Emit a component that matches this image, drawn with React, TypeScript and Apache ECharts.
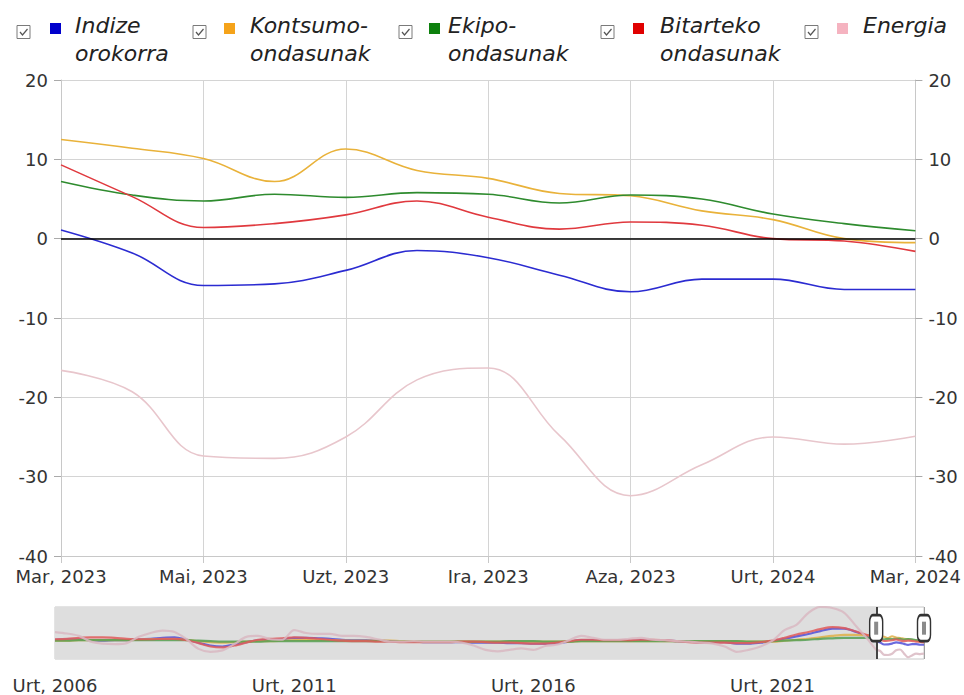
import React, { useEffect, useRef } from "react";
import * as echarts from "echarts";

// ---- main window (monthly, Mar 2023 – Mar 2024) ----
const monthLabels = [
  "Mar, 2023", "Api, 2023", "Mai, 2023", "Eka, 2023", "Uzt, 2023", "Abu, 2023", "Ira, 2023",
  "Urr, 2023", "Aza, 2023", "Abe, 2023", "Urt, 2024", "Ots, 2024", "Mar, 2024",
];

const seriesNames = ["Indize orokorra", "Kontsumo-ondasunak", "Ekipo-ondasunak", "Bitarteko ondasunak", "Energia"];
const legendLabels = ["Indize\norokorra", "Kontsumo-\nondasunak", "Ekipo-\nondasunak", "Bitarteko\nondasunak", "Energia"];

const indize = [1.1, -1.8, -5.9, -5.7, -4.0, -1.5, -2.4, -4.6, -6.7, -5.1, -5.1, -6.4, -6.4];
const kontsumo = [12.5, 11.4, 10.1, 7.2, 11.3, 8.6, 7.6, 5.7, 5.4, 3.5, 2.4, 0.0, -0.5];
const ekipo = [7.2, 5.5, 4.75, 5.6, 5.2, 5.8, 5.6, 4.5, 5.5, 5.0, 3.1, 1.9, 1.0];
const bitarteko = [9.3, 5.3, 1.4, 1.9, 3.0, 4.75, 2.7, 1.2, 2.1, 1.7, 0.0, -0.3, -1.6];
const energia = [-16.6, -19.3, -27.4, -27.7, -25.0, -17.8, -16.3, -24.8, -32.4, -28.5, -25.0, -25.9, -24.9];

// ---- history for the range selector (quarterly: Jan, Apr, Jul, Oct; Jan 2006 – Jan 2023) ----
const histStartYear = 2006;
const histIndize = [
  4, 5, 5, 3, 2, 3, 3, 5, 6, 8, 9, 4, -2, -8, -10, -6, -1, 3, 4, 5, 8, 8, 7, 6, 4, 3, 3, 2,
  1, 0, 0, -1, -1, -1, -1, -2, -2, -2, -3, -3, -4, -4, -3, 0, 3, 3, 2, 2, 2, 3, 3, 2,
  1, 0, -1, -1, -1, -4, -4, -2, 1, 6, 11, 16, 22, 27, 27, 20, 10,
];
const histKontsumo = [
  2, 2, 3, 3, 3, 3, 3, 4, 5, 5, 5, 4, 1, -1, -2, -1, 0, 1, 1, 2, 3, 3, 3, 3, 2, 2, 2, 2,
  2, 1, 1, 0, 0, 0, 0, 0, 0, 0, 0, 0, 0, 0, 0, 0, 1, 1, 1, 1, 1, 1, 1, 1,
  1, 1, 1, 1, 1, 1, 0, 0, 0, 2, 4, 6, 9, 12, 14, 14, 13,
];
const histEkipo = [
  2, 2, 3, 3, 3, 3, 3, 3, 3, 3, 3, 3, 2, 1, 0, 0, 0, 0, 1, 1, 1, 1, 1, 1, 1, 1, 1, 1,
  1, 0, 0, 0, 0, 0, 0, 0, 0, 0, 1, 1, 1, 0, 0, 0, 1, 1, 1, 1, 1, 1, 1, 1,
  1, 1, 1, 1, 1, 1, 0, 0, 1, 2, 3, 4, 6, 7, 8, 8, 8,
];
const histBitarteko = [
  5, 6, 8, 9, 9, 8, 6, 5, 5, 6, 6, 3, -3, -10, -12, -8, -2, 4, 6, 7, 9, 8, 6, 4, 2, 1, 1, 0,
  0, -1, -1, -1, -1, -1, 0, 0, -1, -2, -2, -3, -4, -4, -2, 1, 4, 4, 3, 3, 3, 4, 4, 3,
  1, -1, -2, -2, -2, -3, -3, -1, 2, 8, 15, 20, 26, 30, 28, 21, 13,
];
const histEnergia = [
  20, 17, 12, 0, -4, -5, -3, 10, 18, 23, 20, 5, -15, -21, -18, -5, 10, 12, 5, 4, 24, 18, 16, 16, 12, 12, 10, 5,
  0, 0, 1, 0, 0, 0, -2, -8, -17, -20, -17, -14, -17, -9, -6, 3, 12, 8, 4, 4, 6, 8, 4, 3,
  1, 0, -2, -4, -10, -21, -17, -10, 2, 24, 35, 60, 72, 70, 60, 32, 4,
];

const lineColors = ["#2b2bd1", "#e9b23a", "#2e8b2e", "#e0393e", "#e8c6cc"];
const thumbColors = ["#5050d8", "#e0b048", "#55a055", "#e05a5a", "#d9b9c2"];
const legendColors = ["#0000cc", "#f5a31a", "#0d800d", "#e00000", "#f5b3c0"];

const mainData = [indize, kontsumo, ekipo, bitarteko, energia];
const histData = [histIndize, histKontsumo, histEkipo, histBitarteko, histEnergia];

// offsets in years since Jan 2006
const windowStart = 17 + 2 / 12; // Mar 2023
const windowEnd = 18 + 2 / 12; // Mar 2024

function thumbSeriesData(k: number): [number, number][] {
  const out: [number, number][] = [];
  histData[k].forEach((v, i) => out.push([i * 0.25, v]));
  mainData[k].forEach((v, j) => out.push([windowStart + j / 12, v]));
  return out;
}

const legendBoxX = [17, 193, 399, 601, 805];
const legendSqX = [50, 224, 429, 633, 837];
const legendTextX = [75, 250, 448, 660, 863];

function buildOption(): any {
  const graphics: any[] = [];
  legendLabels.forEach((lab, i) => {
    const x = legendBoxX[i];
    graphics.push(
      { type: "rect", shape: { x, y: 25.5, width: 13, height: 13 }, style: { fill: "#fff", stroke: "#7a7a7a", lineWidth: 1 } },
      { type: "polyline", shape: { points: [[x + 3, 32], [x + 5.5, 35], [x + 10.5, 29]] }, style: { stroke: "#555", lineWidth: 1.2, fill: null } },
      { type: "rect", shape: { x: legendSqX[i], y: 23, width: 11, height: 11 }, style: { fill: legendColors[i] } },
      {
        type: "text", x: legendTextX[i], y: 11.6,
        style: { text: lab, font: "italic 22px 'DejaVu Sans'", fill: "#222", lineHeight: 28, verticalAlign: "top", align: "left" },
      }
    );
  });

  const mainSeries = seriesNames.map((name, k) => {
    const s: any = {
      name, type: "line", xAxisIndex: 0, yAxisIndex: 0, data: mainData[k],
      smooth: 0.4, showSymbol: false, symbol: "none",
      lineStyle: { color: lineColors[k], width: 1.6 }, itemStyle: { color: lineColors[k] },
      z: 3,
    };
    if (k === 0) {
      s.markLine = {
        silent: true, symbol: ["none", "none"], label: { show: false },
        lineStyle: { color: "#000", width: 1.5, type: "solid" },
        data: [{ yAxis: 0 }],
      };
    }
    return s;
  });

  const thumbSeries = seriesNames.map((name, k) => ({
    name: name + " (historia)", type: "line", xAxisIndex: 1, yAxisIndex: 2,
    data: thumbSeriesData(k), smooth: 0.3, showSymbol: false, symbol: "none",
    lineStyle: { color: thumbColors[k], width: 2.2, opacity: 0.85 }, z: 3, silent: true,
  }));

  const bgSeries = {
    type: "line", xAxisIndex: 1, yAxisIndex: 2, data: [], z: 1, silent: true,
    markArea: { silent: true, itemStyle: { color: "#dedede" }, data: [[{ xAxis: 0 }, { xAxis: windowStart }]] },
  };

  const handleSeries = {
    type: "line", xAxisIndex: 1, yAxisIndex: 2, data: [], z: 10, silent: true,
    markLine: {
      silent: true, symbol: ["none", "none"], label: { show: false },
      lineStyle: { color: "#444", width: 2, type: "solid" },
      data: [{ xAxis: windowStart }, { xAxis: windowEnd }],
    },
    markPoint: {
      silent: true, label: { show: false },
      data: [windowStart, windowEnd].flatMap((xv) => [
        { coord: [xv, 28], symbol: "roundRect", symbolSize: [13, 26], itemStyle: { color: "#fff", borderColor: "#333", borderWidth: 2 } },
        { coord: [xv, 28], symbol: "rect", symbolSize: [4, 13], itemStyle: { color: "#8a8a8a" } },
      ]),
    },
  };

  const yBase = {
    type: "value", gridIndex: 0, min: -40, max: 20, interval: 10,
    axisLine: { show: true, lineStyle: { color: "#c8c8c8" } },
    axisTick: { show: true, length: 7, lineStyle: { color: "#aaa" } },
    axisLabel: { fontSize: 18, color: "#333", margin: 13 },
  };

  return {
    animation: false,
    backgroundColor: "#fff",
    textStyle: { fontFamily: "'DejaVu Sans', Verdana, sans-serif" },
    grid: [
      { left: 61, right: 48, top: 80, bottom: 139 },
      { left: 55, right: 40, top: 607, height: 52, show: true, borderColor: "#c8c8c8", borderWidth: 1, backgroundColor: "#fff" },
    ],
    xAxis: [
      {
        type: "category", gridIndex: 0, data: monthLabels, boundaryGap: false,
        axisLine: { show: true, onZero: false, lineStyle: { color: "#c8c8c8" } },
        axisTick: { show: true, interval: 1, length: 7, lineStyle: { color: "#c8c8c8" } },
        axisLabel: { interval: 1, fontSize: 18, color: "#333", margin: 11 },
        splitLine: { show: true, interval: 1, lineStyle: { color: "#d4d4d4" } },
      },
      {
        type: "value", gridIndex: 1, min: 0, max: windowEnd, interval: 5,
        axisLine: { show: false },
        axisTick: { show: true, length: 6, lineStyle: { color: "#888" } },
        axisLabel: {
          fontSize: 18, color: "#333", margin: 17, showMaxLabel: false,
          formatter: (v: number) => "Urt, " + (histStartYear + Math.round(v)),
        },
        splitLine: { show: true, lineStyle: { color: "#a0a0a0" } },
      },
    ],
    yAxis: [
      { ...yBase, position: "left", splitLine: { show: true, lineStyle: { color: "#d4d4d4" } } },
      { ...yBase, position: "right", splitLine: { show: false } },
      { type: "value", gridIndex: 1, min: -36, max: 72, show: false, splitLine: { show: false } },
    ],
    graphic: graphics,
    series: [...mainSeries, bgSeries, ...thumbSeries, handleSeries],
  };
}

export default function App() {
  const ref = useRef<HTMLDivElement>(null);
  useEffect(() => {
    if (!ref.current) return;
    const chart = echarts.init(ref.current, undefined, { renderer: "svg" });
    chart.setOption(buildOption());
    return () => chart.dispose();
  }, []);
  return <div ref={ref} style={{ position: "fixed", left: 0, top: 0, width: 964, height: 695 }} />;
}
